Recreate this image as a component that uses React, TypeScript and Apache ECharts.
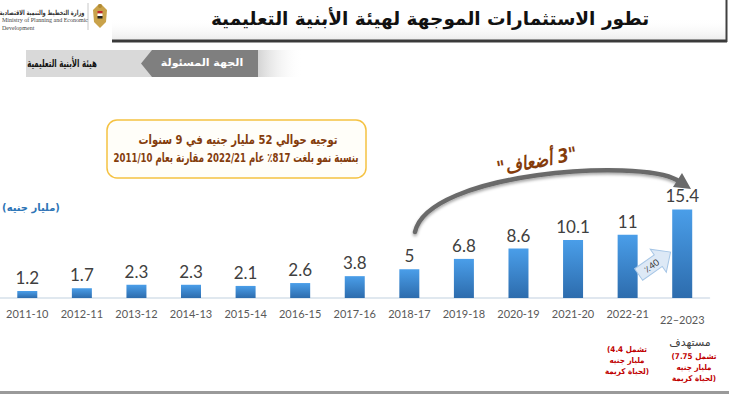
import React, { useEffect, useRef } from "react";
import * as echarts from "echarts";

const categories = ["2011-10", "2012-11", "2013-12", "2014-13", "2015-14", "2016-15", "2017-16", "2018-17", "2019-18", "2020-19", "2021-20", "2022-21", "22–2023"];
const values = [1.2, 1.7, 2.3, 2.3, 2.1, 2.6, 3.8, 5, 6.8, 8.6, 10.1, 11, 15.4];

const titleText = "تطور الاستثمارات الموجهة لهيئة الأبنية التعليمية";
const ministryAr = "وزارة التخطيط والتنمية الاقتصادية";
const ministryEn1 = "Ministry of Planning and Economic";
const ministryEn2 = "Development";
const tagDark = "الجهة المسئولة";
const tagLight = "هيئة الأبنية التعليمية";
const boxLines = ["توجيه حوالي 52 مليار جنيه في 9 سنوات", "بنسبة نمو بلغت 817٪ عام 2022/21 مقارنة بعام 2011/10"];
const unitText = "(مليار جنيه)";
const timesText = "\u200F\"3 أضعاف\"\u200F";
const pctText = "٪40";
const targetText = "مستهدف";
const noteTarget = ["(تشمل 7.75", "مليار جنيه", "لحياة كريمة)"];
const notePrev = ["(تشمل 4.4", "مليار جنيه", "لحياة كريمة)"];

const AR = "DejaVu Sans";
const NUM = "Lato";

function txt(text: string, x: number, y: number, opts: any = {}) {
  return {
    type: "text",
    z: 100,
    x,
    y,
    rotation: opts.rotation || 0,
    scaleX: opts.scaleX || 1,
    scaleY: opts.scaleY || 1,
    style: {
      text,
      x: 0,
      y: 0,
      fill: opts.fill || "#000",
      fontSize: opts.fontSize || 12,
      fontWeight: opts.fontWeight || "normal",
      fontStyle: opts.fontStyle || "normal",
      fontFamily: opts.fontFamily || AR,
      align: opts.align || "center",
      verticalAlign: "middle",
      textAlign: opts.align || "center",
      textVerticalAlign: "middle",
    },
  };
}

export default function App() {
  const ref = useRef<HTMLDivElement>(null);
  useEffect(() => {
    if (!ref.current) return;
    const chart = echarts.init(ref.current, null, { renderer: "svg" });

    const deg = Math.PI / 180;
    const red = { fontSize: 8, fontWeight: "bold", fill: "#c00000", scaleX: 0.9 };
    const graphic: any[] = [
      // header gradient
      {
        type: "rect",
        z: 1,
        shape: { x: 112, y: 18, width: 615, height: 22 },
        style: { fill: new echarts.graphic.LinearGradient(0, 0, 0, 1, [{ offset: 0, color: "rgba(255,255,255,0)" }, { offset: 1, color: "#ececec" }]) },
      },
      { type: "rect", z: 5, shape: { x: 112, y: 39.5, width: 615, height: 3 }, style: { fill: "#3a3a3a" } },
      { type: "rect", z: 5, shape: { x: 725.5, y: 0, width: 2, height: 42 }, style: { fill: "#404040" } },
      txt(titleText, 430, 18, { fontSize: 18.5, fontWeight: "bold", fill: "#111" }),
      // logo
      { type: "line", z: 5, shape: { x1: 88, y1: 3, x2: 88, y2: 30 }, style: { stroke: "#c8c8c8", lineWidth: 1 } },
      txt(ministryAr, 42, 12, { fontSize: 7, fontWeight: "bold", fill: "#333", scaleX: 0.72 }),
      txt(ministryEn1, 2, 20, { fontSize: 6, fill: "#444", align: "left", fontFamily: "Liberation Serif" }),
      txt(ministryEn2, 2, 28, { fontSize: 6, fill: "#444", align: "left", fontFamily: "Liberation Serif" }),
      { type: "polygon", z: 5, shape: { points: [[93, 10], [99, 4], [101, 4], [107, 10], [106, 22], [100, 28], [94, 22]] }, style: { fill: "#c9a24a" } },
      { type: "circle", z: 6, shape: { cx: 100, cy: 6, r: 2 }, style: { fill: "#b08a35" } },
      { type: "rect", z: 6, shape: { x: 97.5, y: 11, width: 5, height: 2.5 }, style: { fill: "#c0282d" } },
      { type: "rect", z: 6, shape: { x: 97.5, y: 13.5, width: 5, height: 2.5 }, style: { fill: "#ffffff" } },
      { type: "rect", z: 6, shape: { x: 97.5, y: 16, width: 5, height: 2.5 }, style: { fill: "#222" } },
      // tag box
      {
        type: "rect",
        z: 1,
        shape: { x: 258, y: 50, width: 45, height: 27 },
        style: { fill: new echarts.graphic.LinearGradient(0, 0, 1, 0, [{ offset: 0, color: "#d4d4d4" }, { offset: 1, color: "rgba(255,255,255,0)" }]) },
      },
      { type: "rect", z: 5, shape: { x: 26, y: 50, width: 126, height: 27 }, style: { fill: "#d9d9d9" } },
      { type: "polygon", z: 6, shape: { points: [[152, 50], [258, 50], [258, 77], [152, 77], [141, 63.5]] }, style: { fill: "#7f7f7f" } },
      txt(tagLight, 62, 63, { fontSize: 11, fontWeight: "bold", fill: "#111", scaleX: 0.64 }),
      txt(tagDark, 202, 63, { fontSize: 10.5, fontWeight: "bold", fill: "#fff", scaleX: 1.05 }),
      // yellow box
      { type: "rect", z: 5, shape: { x: 107, y: 120, width: 259, height: 58, r: 10 }, style: { fill: "#fffef9", stroke: "#f5c242", lineWidth: 1.5 } },
      txt(boxLines[0], 238, 140, { fontSize: 13, fontWeight: "bold", fill: "#843c0c", scaleX: 0.77 }),
      txt(boxLines[1], 236, 158, { fontSize: 13, fontWeight: "bold", fill: "#843c0c", scaleX: 0.66 }),
      // unit
      txt(unitText, 31, 207, { fontSize: 10.5, fontWeight: "bold", fill: "#2e75b6", scaleX: 0.95 }),
      // curved arrow
      {
        type: "bezierCurve",
        z: 20,
        shape: { x1: 415, y1: 232, cpx1: 428, cpy1: 172, cpx2: 640, cpy2: 158, x2: 677, y2: 180 },
        style: { stroke: "#6a6a6a", lineWidth: 4.5, fill: null, lineCap: "round", shadowBlur: 3, shadowColor: "rgba(0,0,0,0.35)", shadowOffsetY: 2 },
      },
      { type: "polygon", z: 21, shape: { points: [[691, 189], [673, 187], [682, 173]] }, style: { fill: "#6a6a6a" } },
      txt(timesText, 537, 161, { fontSize: 19, fontWeight: "bold", fontStyle: "italic", fill: "#843c0c", rotation: 11 * deg, scaleX: 0.85 }),
      // 40% arrow
      {
        type: "group",
        z: 30,
        x: 655,
        y: 263,
        rotation: 35 * deg,
        children: [
          { type: "polygon", z: 30, shape: { points: [[-20, -7], [4, -7], [4, -14], [19, 0], [4, 14], [4, 7], [-20, 7]] }, style: { fill: "#dde9f6", stroke: "#a6c6e6", lineWidth: 1 } },
          { type: "text", z: 31, style: { text: pctText, x: -4, y: 0, fill: "#333", fontSize: 9, fontFamily: NUM, align: "center", verticalAlign: "middle", textAlign: "center", textVerticalAlign: "middle" } },
        ],
      },
      // notes
      txt(targetText, 690, 342, { fontSize: 11, fill: "#404040" }),
      txt(noteTarget[0], 694, 356, red),
      txt(noteTarget[1], 694, 367, red),
      txt(noteTarget[2], 694, 378, red),
      txt(notePrev[0], 627, 349, red),
      txt(notePrev[1], 627, 360, red),
      txt(notePrev[2], 627, 371, red),
      // bottom line
      { type: "rect", z: 5, shape: { x: 0, y: 391, width: 729, height: 3 }, style: { fill: "#9a9a9a" } },
    ];

    chart.setOption({
      animation: false,
      backgroundColor: "#ffffff",
      grid: { left: -5.5, right: 19.5, top: 183, bottom: 96, containLabel: false },
      xAxis: {
        type: "category",
        data: categories,
        axisLine: { show: true, lineStyle: { color: "#d6e0ea", width: 1.5 } },
        axisTick: { show: false },
        axisLabel: {
          margin: 10,
          fontFamily: NUM,
          fontSize: 11,
          color: "#595959",
          interval: 0,
          formatter: (v: string, i: number) => (i === categories.length - 1 ? "{last|" + v + "}" : v),
          rich: { last: { fontFamily: NUM, fontSize: 11, color: "#595959", padding: [6, 0, 0, 0] } },
        },
      },
      yAxis: { type: "value", min: 0, max: 20, show: false, splitLine: { show: false } },
      series: [
        {
          type: "bar",
          data: values,
          barWidth: 20,
          itemStyle: {
            color: new echarts.graphic.LinearGradient(0, 0, 0, 1, [
              { offset: 0, color: "#4a9ee9" },
              { offset: 1, color: "#2d6cad" },
            ]),
          },
          label: { show: true, position: "top", distance: 5, fontFamily: NUM, fontSize: 17, color: "#404040" },
        },
      ],
      graphic,
    });
    return () => chart.dispose();
  }, []);
  return <div ref={ref} style={{ position: "fixed", left: 0, top: 0, width: 729, height: 394 }} />;
}
